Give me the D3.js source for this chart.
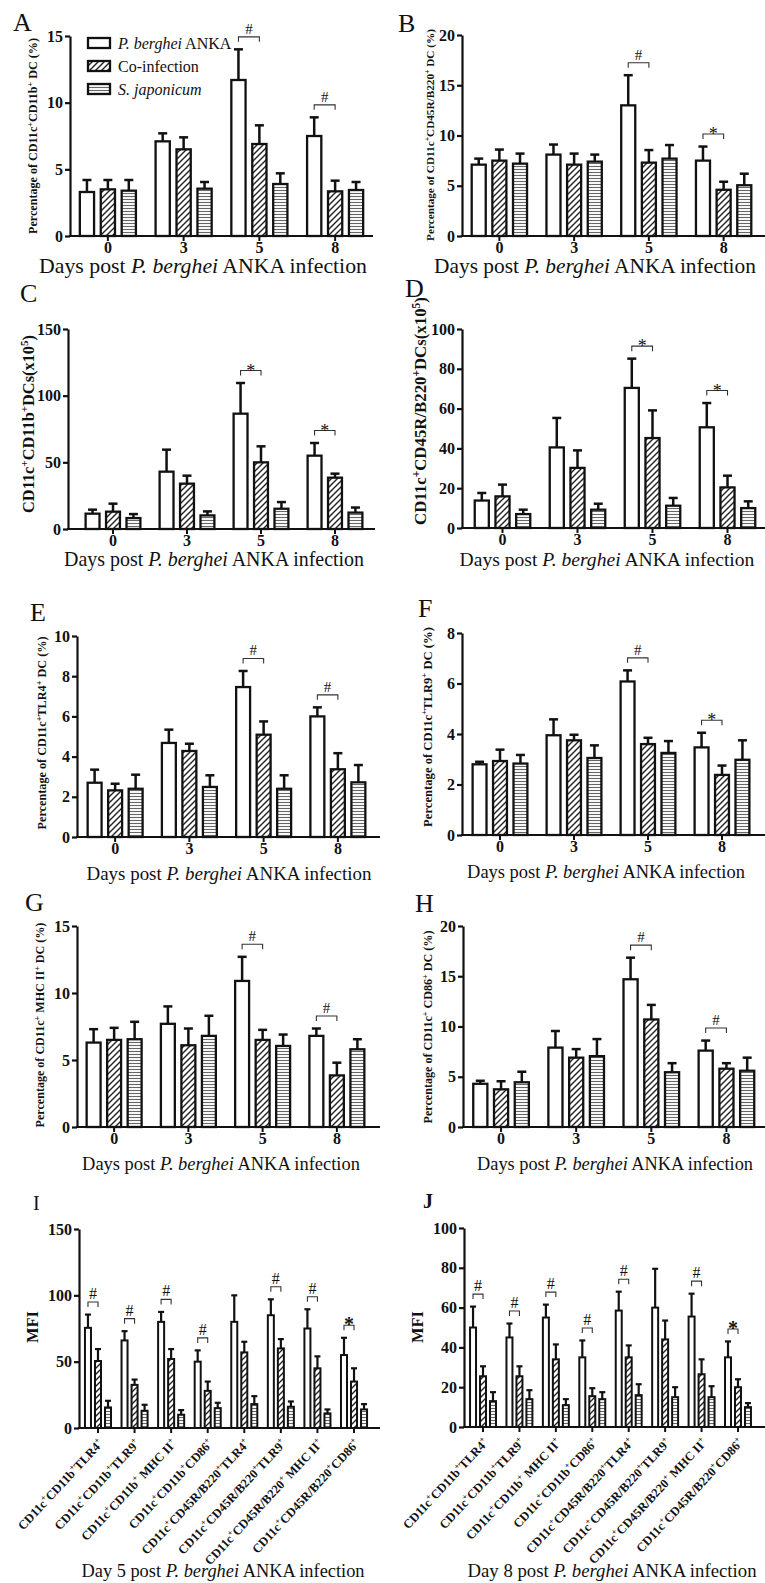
<!DOCTYPE html>
<html>
<head>
<meta charset="utf-8">
<script src="https://cdn.jsdelivr.net/npm/d3@7"></script>
<style>
  body { margin: 0; background: #fff; }
  svg { display: block; }
  text { font-family: "Liberation Serif", "Times New Roman", serif; fill: #111; }
</style>
</head>
<body>
<script>
// ---- data ----
const days = ["0", "3", "5", "8"];
const groupNames = ["_P. berghei_ ANKA", "Co-infection", "_S. japonicum_"];
const subsets = [
  "CD11c^+CD11b^+TLR4^+", "CD11c^+CD11b^+TLR9^+", "CD11c^+CD11b^+ MHC II^+", "CD11c^+CD11b^+CD86^+",
  "CD11c^+CD45R/B220^+TLR4^+", "CD11c^+CD45R/B220^+TLR9^+", "CD11c^+CD45R/B220^+ MHC II^+", "CD11c^+CD45R/B220^+CD86^+"
];

// series order: P. berghei ANKA, Co-infection, S. japonicum
const meanA = [[3.3, 7.1, 11.7, 7.5], [3.5, 6.5, 6.9, 3.35], [3.4, 3.55, 3.9, 3.45]];
const errA = [[0.9, 0.6, 2.3, 1.4], [0.7, 0.9, 1.4, 0.8], [0.8, 0.5, 0.8, 0.6]];
const sigA = ["", "", "#", "#"];

const meanB = [[7.1, 8.1, 13.0, 7.5], [7.5, 7.1, 7.3, 4.6], [7.2, 7.4, 7.7, 5.05]];
const errB = [[0.6, 1.0, 3.0, 1.4], [1.1, 1.1, 1.25, 0.8], [1.0, 0.7, 1.35, 1.15]];
const sigB = ["", "", "#", "*"];

const meanC = [[11.5, 43, 86.5, 55], [13, 34, 50, 38.5], [8.2, 10.2, 15.2, 12.3]];
const errC = [[3, 16.5, 23, 9.5], [6, 6, 12, 3], [3, 3, 5, 3.8]];
const sigC = ["", "", "*", "*"];

const meanD = [[13.8, 40.5, 70.4, 50.6], [15.9, 30.2, 45.2, 20.4], [7.0, 9.2, 11.2, 10]];
const errD = [[3.8, 14.8, 14.7, 12.2], [5.9, 8.8, 13.9, 5.9], [2.2, 3, 3.9, 3.4]];
const sigD = ["", "", "*", "*"];

const meanE = [[2.7, 4.68, 7.46, 6.0], [2.32, 4.28, 5.09, 3.37], [2.4, 2.49, 2.4, 2.72]];
const errE = [[0.65, 0.66, 0.8, 0.45], [0.33, 0.36, 0.66, 0.8], [0.7, 0.58, 0.67, 0.86]];
const sigE = ["", "", "#", "#"];

const meanF = [[2.8, 3.95, 6.08, 3.47], [2.93, 3.75, 3.6, 2.38], [2.83, 3.05, 3.25, 2.98]];
const errF = [[0.1, 0.63, 0.44, 0.58], [0.45, 0.22, 0.25, 0.37], [0.34, 0.5, 0.47, 0.77]];
const sigF = ["", "", "#", "*"];

const meanG = [[6.3, 7.7, 10.9, 6.8], [6.5, 6.1, 6.5, 3.85], [6.55, 6.8, 6.05, 5.8]];
const errG = [[1.0, 1.3, 1.8, 0.55], [0.9, 1.25, 0.75, 0.95], [1.3, 1.5, 0.85, 0.75]];
const sigG = ["", "", "#", "#"];

const meanH = [[4.3, 7.9, 14.7, 7.6], [3.75, 6.9, 10.7, 5.8], [4.45, 7.05, 5.45, 5.6]];
const errH = [[0.3, 1.65, 2.15, 1.0], [0.8, 0.85, 1.45, 0.55], [1.05, 1.7, 0.9, 1.3]];
const sigH = ["", "", "#", "#"];

const meanI = [[75.5, 66, 80, 50, 80, 85, 75, 55], [50.5, 32.5, 52, 28, 57, 60, 45, 35], [15.5, 13, 10, 15, 18, 16, 11, 14]];
const errI = [[10, 7, 7.5, 8.5, 20, 12, 14.5, 13], [9, 4, 7.5, 7, 8, 7, 9, 10], [5, 4.5, 3.5, 4, 6, 4, 3, 4]];
const sigI = ["#", "#", "#", "#", "", "#", "#", "*"];

const meanJ = [[50, 45, 55, 35, 58.5, 60, 55.5, 35], [25.5, 25.5, 34, 15.5, 35, 44, 26.5, 20], [13, 14, 11, 14, 16, 15, 15, 10]];
const errJ = [[10.5, 7, 6.5, 8.5, 9.5, 19.5, 11.5, 8], [5, 5, 7.5, 4, 6, 9.5, 7.5, 4], [4.5, 4.5, 3, 3.5, 5.5, 5, 5.5, 2]];
const sigJ = ["#", "#", "#", "#", "#", "", "#", "*"];

const dayTitle = "Days post _P. berghei_ ANKA infection";

// ---- layout ----
const panels = [
  { letter: "A", mean: meanA, err: errA, sig: sigA, cats: days, yMax: 15, ticks: [0, 5, 10, 15],
    yTitle: "Percentage of CD11c^+CD11b^+ DC (%)", xTitle: dayTitle,
    ax: 70, y0: 236, yTop: 36, band: [70, 373], axEnd: 373, lp: [13, 31], yt: [33, 136, 196], xt: [203, 273, 328] },
  { letter: "B", mean: meanB, err: errB, sig: sigB, cats: days, yMax: 20, ticks: [0, 5, 10, 15, 20],
    yTitle: "Percentage of CD11c^+CD45R/B220^+ DC (%)", xTitle: dayTitle,
    ax: 462, y0: 236, yTop: 35, band: [462, 761], axEnd: 765, lp: [398, 32], yt: [430, 135, 212], xt: [595, 273, 322] },
  { letter: "C", mean: meanC, err: errC, sig: sigC, cats: days, yMax: 150, ticks: [0, 50, 100, 150],
    yTitle: "CD11c^+CD11b^+DCs(x10^5)", xTitle: dayTitle, bigY: true,
    ax: 68, y0: 529, yTop: 329, band: [76, 372], axEnd: 375, lp: [20, 302], yt: [28, 424, 178], xt: [214, 566, 300] },
  { letter: "D", mean: meanD, err: errD, sig: sigD, cats: days, yMax: 100, ticks: [0, 20, 40, 60, 80, 100],
    yTitle: "CD11c^+CD45R/B220^+DCs(x10^5)", xTitle: dayTitle, bigY: true,
    ax: 462, y0: 528, yTop: 329, band: [465, 765], axEnd: 765, lp: [405, 297], yt: [420, 411, 228], xt: [607, 566, 295] },
  { letter: "E", mean: meanE, err: errE, sig: sigE, cats: days, yMax: 10, ticks: [0, 2, 4, 6, 8, 10],
    yTitle: "Percentage of CD11c^+TLR4^+ DC (%)", xTitle: dayTitle,
    ax: 77, y0: 837, yTop: 636, band: [78, 375], axEnd: 380, lp: [30, 621], yt: [42, 733, 193], xt: [229, 880, 285] },
  { letter: "F", mean: meanF, err: errF, sig: sigF, cats: days, yMax: 8, ticks: [0, 2, 4, 6, 8],
    yTitle: "Percentage of CD11c^+TLR9^+ DC (%)", xTitle: dayTitle,
    ax: 462, y0: 835, yTop: 633, band: [463, 759], axEnd: 765, lp: [418, 617], yt: [428, 727, 200], xt: [606, 878, 278] },
  { letter: "G", mean: meanG, err: errG, sig: sigG, cats: days, yMax: 15, ticks: [0, 5, 10, 15],
    yTitle: "Percentage of CD11c^+ MHC II^+ DC (%)", xTitle: dayTitle,
    ax: 77, y0: 1127, yTop: 926, band: [77, 374], axEnd: 380, lp: [25, 911], yt: [40, 1025, 205], xt: [221, 1170, 278] },
  { letter: "H", mean: meanH, err: errH, sig: sigH, cats: days, yMax: 20, ticks: [0, 5, 10, 15, 20],
    yTitle: "Percentage of CD11c^+ CD86^+ DC (%)", xTitle: dayTitle,
    ax: 463, y0: 1127, yTop: 926, band: [463.5, 764], axEnd: 765, lp: [415, 912], yt: [428, 1027, 193], xt: [615, 1170, 276] },
  { letter: "I", mean: meanI, err: errI, sig: sigI, cats: subsets, yMax: 150, ticks: [0, 50, 100, 150], narrow: true,
    yTitle: "MFI", xTitle: "Day 5 post _P. berghei_ ANKA infection", bigY: true,
    ax: 79, y0: 1428, yTop: 1229, band: [79.7, 372.3], axEnd: 380, lp: [33, 1210], yt: [32, 1327, 32], xt: [223, 1577, 283] },
  { letter: "J", mean: meanJ, err: errJ, sig: sigJ, cats: subsets, yMax: 100, ticks: [0, 20, 40, 60, 80, 100], narrow: true,
    yTitle: "MFI", xTitle: "Day 8 post _P. berghei_ ANKA infection", bigY: true,
    ax: 464, y0: 1427, yTop: 1228, band: [464.8, 756.2], axEnd: 765, lp: [423, 1208], yt: [417, 1327, 32], xt: [612, 1577, 289] }
];

const fills = ["#fff", "url(#hatch)", "url(#stripe)"];

const svg = d3.select("body").append("svg").attr("width", 765).attr("height", 1583);

const defs = svg.append("defs");
const hatch = defs.append("pattern").attr("id", "hatch").attr("patternUnits", "userSpaceOnUse")
  .attr("width", 6).attr("height", 6);
hatch.append("rect").attr("width", 6).attr("height", 6).attr("fill", "#fff");
hatch.append("path").attr("d", "M-1,1 l2,-2 M0,6 l6,-6 M5,7 l2,-2")
  .attr("stroke", "#222").attr("stroke-width", 1.4);
const stripe = defs.append("pattern").attr("id", "stripe").attr("patternUnits", "userSpaceOnUse")
  .attr("width", 4).attr("height", 3);
stripe.append("rect").attr("width", 4).attr("height", 3).attr("fill", "#fff");
stripe.append("line").attr("x1", 0).attr("x2", 4).attr("y1", 1.5).attr("y2", 1.5)
  .attr("stroke", "#666").attr("stroke-width", 1.1);

// ^x = superscript char, _text_ = italic
function rich(t, str) {
  str.split(/(\^.|_[^_]+_)/).filter(s => s).forEach(part => {
    if (part[0] === "^") {
      t.append("tspan").attr("baseline-shift", "super").attr("font-size", "68%").text(part[1]);
    } else if (part[0] === "_") {
      t.append("tspan").attr("font-style", "italic").text(part.slice(1, -1));
    } else {
      t.append("tspan").text(part);
    }
  });
  return t;
}

function fit(t, len) {
  const fs = parseFloat(t.attr("font-size"));
  const w = t.node().getComputedTextLength();
  if (w > 0) t.attr("font-size", (fs * len / w).toFixed(2));
}

function drawPanel(p) {
  const g = svg.append("g");
  const y = d3.scaleLinear().domain([0, p.yMax]).range([p.y0, p.yTop]);
  const x0 = d3.scaleBand().domain(p.cats).range(p.band);
  const x1 = d3.scaleBand().domain([0, 1, 2]).range([0, x0.bandwidth()])
    .paddingInner(p.narrow ? 0.4 : 0.32).paddingOuter(p.narrow ? 0.525 : 0.47);
  const sw = p.narrow ? 2 : 2.3;
  const cap = p.narrow ? 6 : 9;
  const cx = (s, i) => x0(p.cats[i]) + x1(s) + x1.bandwidth() / 2;

  // bars
  p.mean.forEach((vals, s) => {
    g.selectAll(null).data(vals).enter().append("rect")
      .attr("x", (d, i) => x0(p.cats[i]) + x1(s))
      .attr("y", d => y(d))
      .attr("width", x1.bandwidth())
      .attr("height", d => p.y0 - y(d))
      .attr("fill", fills[s])
      .attr("stroke", "#111")
      .attr("stroke-width", sw);
  });

  // error bars (upper only)
  p.mean.forEach((vals, s) => {
    const eb = g.selectAll(null).data(vals).enter().append("g")
      .attr("stroke", "#111").attr("stroke-width", sw + 0.2);
    eb.append("line")
      .attr("x1", (d, i) => cx(s, i)).attr("x2", (d, i) => cx(s, i))
      .attr("y1", d => y(d)).attr("y2", (d, i) => y(d + p.err[s][i]));
    eb.append("line")
      .attr("x1", (d, i) => cx(s, i) - cap / 2).attr("x2", (d, i) => cx(s, i) + cap / 2)
      .attr("y1", (d, i) => y(d + p.err[s][i])).attr("y2", (d, i) => y(d + p.err[s][i]));
  });

  // significance brackets between P. berghei and co-infection
  p.sig.forEach((sym, i) => {
    if (!sym) return;
    const lvl = y(p.mean[0][i] + p.err[0][i]) - 12.5;
    const xa = cx(0, i), xb = cx(1, i);
    g.append("path")
      .attr("d", `M${xa},${lvl + 5}V${lvl}H${xb}V${lvl + 5}`)
      .attr("fill", "none").attr("stroke", "#333").attr("stroke-width", 1.1);
    g.append("text")
      .attr("x", (xa + xb) / 2).attr("y", sym === "*" ? lvl + 6 : lvl - 3)
      .attr("text-anchor", "middle")
      .attr("font-size", sym === "*" ? (p.narrow ? 20 : 18) : (p.narrow ? 16 : 15))
      .attr("font-weight", sym === "*" && p.narrow ? "bold" : "normal")
      .text(sym);
  });

  // y axis
  const ya = g.append("g").attr("transform", `translate(${p.ax},0)`)
    .call(d3.axisLeft(y).tickValues(p.ticks).tickSize(5).tickSizeOuter(0).tickPadding(2).tickFormat(d3.format("d")));
  ya.select(".domain").attr("stroke", "#111").attr("stroke-width", 2.2);
  ya.selectAll(".tick line").attr("stroke", "#111").attr("stroke-width", 2.2);
  ya.selectAll(".tick text").attr("font-size", 16).attr("font-weight", "bold").attr("fill", "#111");

  // x axis
  const xa = g.append("g").attr("transform", `translate(0,${p.y0})`)
    .call(d3.axisBottom(x0).tickSize(5).tickSizeOuter(0).tickPadding(1));
  xa.select(".domain").remove();
  xa.append("line").attr("x1", p.ax - 1).attr("x2", p.axEnd).attr("stroke", "#111").attr("stroke-width", 2.2);
  xa.selectAll(".tick line").attr("stroke", "#111").attr("stroke-width", 2);
  if (p.narrow) {
    xa.selectAll(".tick text").each(function (d) {
      const t = d3.select(this).text(null)
        .attr("x", 0).attr("y", 0).attr("dy", "0.35em")
        .attr("transform", "translate(3,13) rotate(-47)")
        .attr("text-anchor", "end")
        .attr("font-size", 12.5).attr("font-weight", "bold").attr("fill", "#111");
      rich(t, d);
    });
  } else {
    xa.selectAll(".tick text").attr("font-size", 16).attr("font-weight", "bold").attr("fill", "#111");
  }

  // titles
  const yt = g.append("text")
    .attr("transform", `translate(${p.yt[0]},${p.yt[1]}) rotate(-90)`)
    .attr("text-anchor", "middle").attr("dy", "0.35em")
    .attr("font-weight", "bold").attr("font-size", p.bigY ? 15 : 11);
  rich(yt, p.yTitle);
  fit(yt, p.yt[2]);

  const xt = g.append("text")
    .attr("x", p.xt[0]).attr("y", p.xt[1])
    .attr("text-anchor", "middle").attr("font-size", 17);
  rich(xt, p.xTitle);
  fit(xt, p.xt[2]);

  g.append("text").attr("x", p.lp[0]).attr("y", p.lp[1])
    .attr("font-size", p.narrow ? 20 : 26)
    .attr("font-weight", p.letter === "J" ? "bold" : "normal")
    .text(p.letter);
}

panels.forEach(drawPanel);

// legend (panel A)
const legend = svg.append("g").attr("transform", "translate(88,43)");
groupNames.forEach((name, s) => {
  const row = legend.append("g").attr("transform", `translate(0,${s * 23})`);
  row.append("rect").attr("x", 0).attr("y", -5).attr("width", 22).attr("height", 10)
    .attr("fill", fills[s]).attr("stroke", "#111").attr("stroke-width", 2.3);
  rich(row.append("text").attr("x", 30).attr("y", 5.5).attr("font-size", 16), name);
});
</script>
</body>
</html>
